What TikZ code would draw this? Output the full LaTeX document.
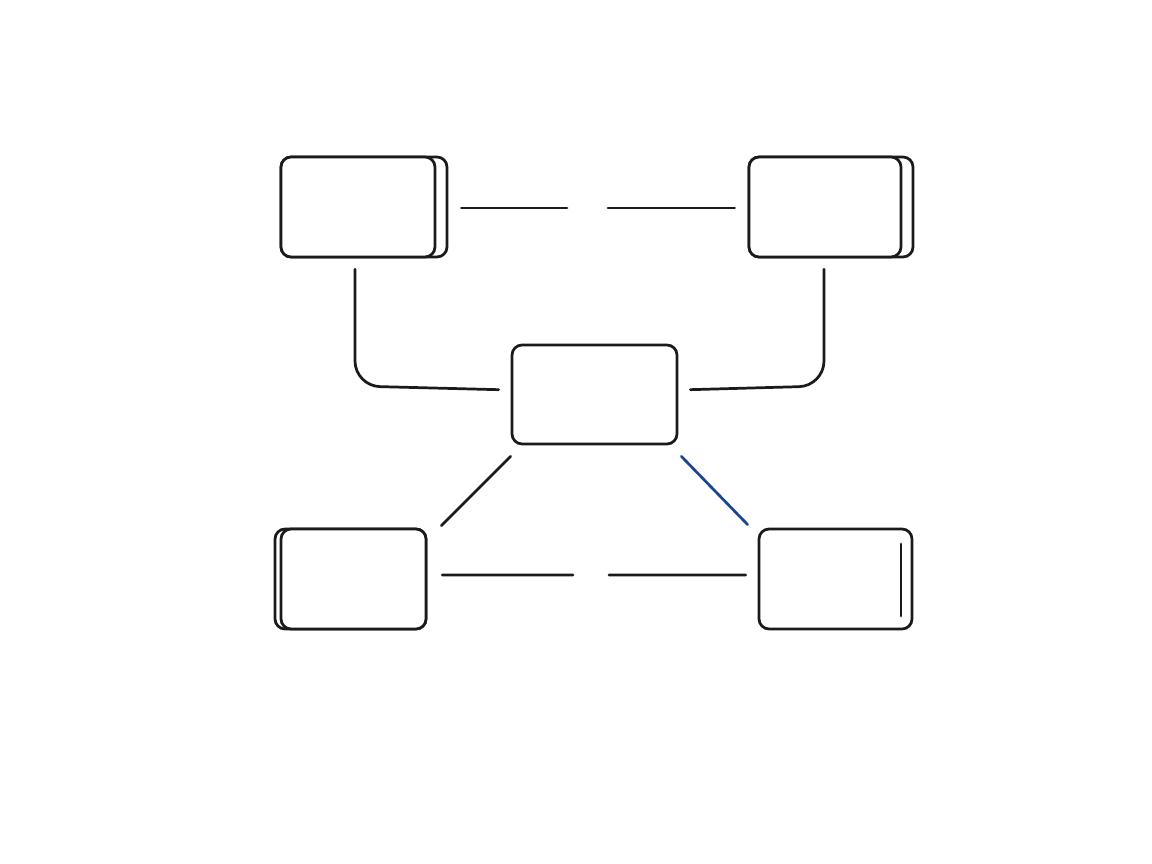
\documentclass[tikz,border=0pt]{standalone}
\usetikzlibrary{calc}
\definecolor{ink}{HTML}{1A1A1A}
\definecolor{linkblue}{HTML}{1A4590}
\begin{document}
\begin{tikzpicture}[x=0.02cm,y=-0.02cm,line width=1.55pt,line cap=round,
    box/.style={draw=ink,fill=white,rounded corners=0.2cm,minimum height=2cm,inner sep=0pt},
    link/.style={draw=ink}]
  \useasboundingbox (0,0) rectangle (1152,864); % cornice
  % riquadri in alto
  \node[box,minimum width=3.32cm] (Aback) at (364,207) {}; % retro di A
  \node[box,minimum width=3.08cm] (A) at (358,207) {}; % riquadro A
  \node[box,minimum width=3.28cm] (Bback) at (831,207) {}; % retro di B
  \node[box,minimum width=3.04cm] (B) at (825,207) {}; % riquadro B
  % riquadro centrale
  \node[box,minimum width=3.3cm,minimum height=1.98cm] (C) at (594.5,394.5) {}; % riquadro C
  % riquadri in basso
  \node[box,minimum width=3.02cm] (Dback) at (350.5,579) {}; % retro di D
  \node[box,minimum width=2.9cm] (D) at (353.5,579) {}; % riquadro D
  \node[box,minimum width=3.06cm] (E) at (835.5,579) {}; % riquadro E
  \coordinate (Etop) at (901,544); % barra interna di E
  \coordinate (Ebot) at (901,616);
  \draw[link] (Etop) -- (Ebot);
  % collegamenti orizzontali (interrotti a meta')
  \coordinate (abL) at (567,208);
  \coordinate (abR) at (608,208);
  \draw[link,shorten <=0.26cm] ([yshift=-0.02cm]Aback.east) -- (abL); % A-B, prima parte
  \draw[link,shorten >=0.26cm] (abR) -- ([yshift=-0.02cm]B.west); % A-B, seconda parte
  \coordinate (deL) at (573,575);
  \coordinate (deR) at (609,575);
  \draw[link,shorten <=0.3cm] ([yshift=0.08cm]D.east) -- (deL); % D-E, prima parte
  \draw[link,shorten >=0.24cm] (deR) -- ([yshift=0.08cm]E.west); % D-E, seconda parte
  % collegamenti verso C
  \coordinate (acK) at (355,386);
  \coordinate (bcK) at (824,386);
  \draw[link,rounded corners=0.5cm,shorten <=0.22cm,shorten >=0.24cm]
    ([xshift=-0.06cm]A.south) -- (acK) -- ([yshift=0.09cm]C.west); % A-C
  \draw[link,rounded corners=0.5cm,shorten <=0.22cm,shorten >=0.24cm]
    ([xshift=-0.02cm]B.south) -- (bcK) -- ([yshift=0.09cm]C.east); % B-C
  \draw[link] ([yshift=-0.22cm]C.south west) -- ([xshift=0.28cm,yshift=0.04cm]D.north east); % C-D
  \draw[draw=linkblue] ([xshift=0.06cm,yshift=-0.22cm]C.south east) -- ([xshift=-0.2cm,yshift=0.06cm]E.north west); % C-E
\end{tikzpicture}
\end{document}
